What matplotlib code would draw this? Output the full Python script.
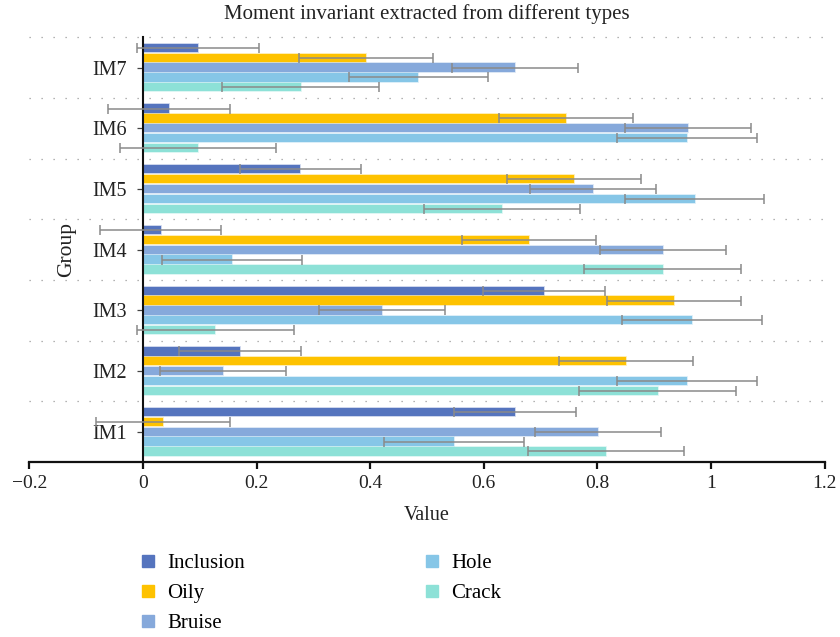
import numpy as np
import matplotlib
matplotlib.use("Agg")
import matplotlib.pyplot as plt
from matplotlib.lines import Line2D

plt.rcParams['font.family'] = ['Liberation Serif', 'DejaVu Serif']

groups = ["IM1", "IM2", "IM3", "IM4", "IM5", "IM6", "IM7"]
series = ["Inclusion", "Oily", "Bruise", "Hole", "Crack"]
colors = ["#5574be", "#fec200", "#86a9db", "#86c6e7", "#8de1d7"]

inclusion = [0.655, 0.171, 0.706, 0.031, 0.277, 0.046, 0.097]
oily      = [0.035, 0.850, 0.934, 0.679, 0.758, 0.744, 0.392]
bruise    = [0.801, 0.141, 0.421, 0.916, 0.792, 0.960, 0.655]
hole      = [0.547, 0.958, 0.966, 0.157, 0.971, 0.958, 0.485]
crack     = [0.815, 0.906, 0.127, 0.915, 0.632, 0.097, 0.278]
values = [inclusion, oily, bruise, hole, crack]

errors = [0.107, 0.118, 0.111, 0.123, 0.138]

xticks = [-0.2, 0, 0.2, 0.4, 0.6, 0.8, 1.0, 1.2]
xticklabels = ["\u22120.2", "0", "0.2", "0.4", "0.6", "0.8", "1", "1.2"]

fig = plt.figure(figsize=(8.4, 6.37), dpi=100)
ax = fig.add_axes([0.0349, 0.2755, 0.9469, 0.6660])

pos = np.arange(len(groups))
pitch = 0.162
height = 0.137
for k, (name, vals, col, err) in enumerate(zip(series, values, colors, errors)):
    y = pos + (2 - k) * pitch
    ax.barh(y, vals, height=height, color=col, edgecolor=matplotlib.colors.to_rgba(col, 0.35),
            linewidth=1.2, zorder=2, label=name)
    ax.errorbar(vals, y, xerr=err, fmt='none', ecolor='#8a8a8a', elinewidth=1.1,
                capsize=3.3, capthick=1.1, zorder=3)

for b in pos + 0.5:
    ax.axhline(b, color='#9a9a9a', linewidth=0.9, linestyle=(0, (1, 8.6)),
               clip_on=False, zorder=1)

ax.set_xlim(-0.2, 1.2)
ax.set_ylim(-0.49, 6.5)

ax.spines['top'].set_visible(False)
ax.spines['right'].set_visible(False)
ax.spines['left'].set_position(('data', 0))
ax.spines['left'].set_linewidth(1.5)
ax.spines['left'].set_color('#111111')
ax.spines['bottom'].set_linewidth(1.6)
ax.spines['bottom'].set_color('#111111')

ax.set_yticks(pos)
ax.set_yticklabels(groups, fontsize=14.5, color='#222222')
ax.tick_params(axis='y', direction='out', length=4.3, width=0.9, color='#444444', pad=7)
ax.set_xticks(xticks)
ax.set_xticklabels(xticklabels, fontsize=14, color='#222222')
ax.tick_params(axis='x', direction='out', length=5, width=1.6, color='#111111', pad=5)

ax.set_xlabel("Value", fontsize=14.5, color='#222222', labelpad=10)
ax.set_ylabel("Group", fontsize=15.5, color='#222222', labelpad=12)
ax.set_title("Moment invariant extracted from different types", fontsize=15,
             color='#222222', pad=13)

handles = [Line2D([], [], linestyle='none', marker='s', markersize=8,
                  markerfacecolor=c, markeredgecolor=c) for c in colors]
fig.legend(handles, series, loc='upper left', bbox_to_anchor=(0.1657, 0.1313),
           ncol=2, frameon=False, fontsize=15, handlelength=0.8, handletextpad=0.55,
           columnspacing=8.55, labelspacing=0.51, borderaxespad=0, borderpad=0)

fig.savefig("out.png", dpi=100)
